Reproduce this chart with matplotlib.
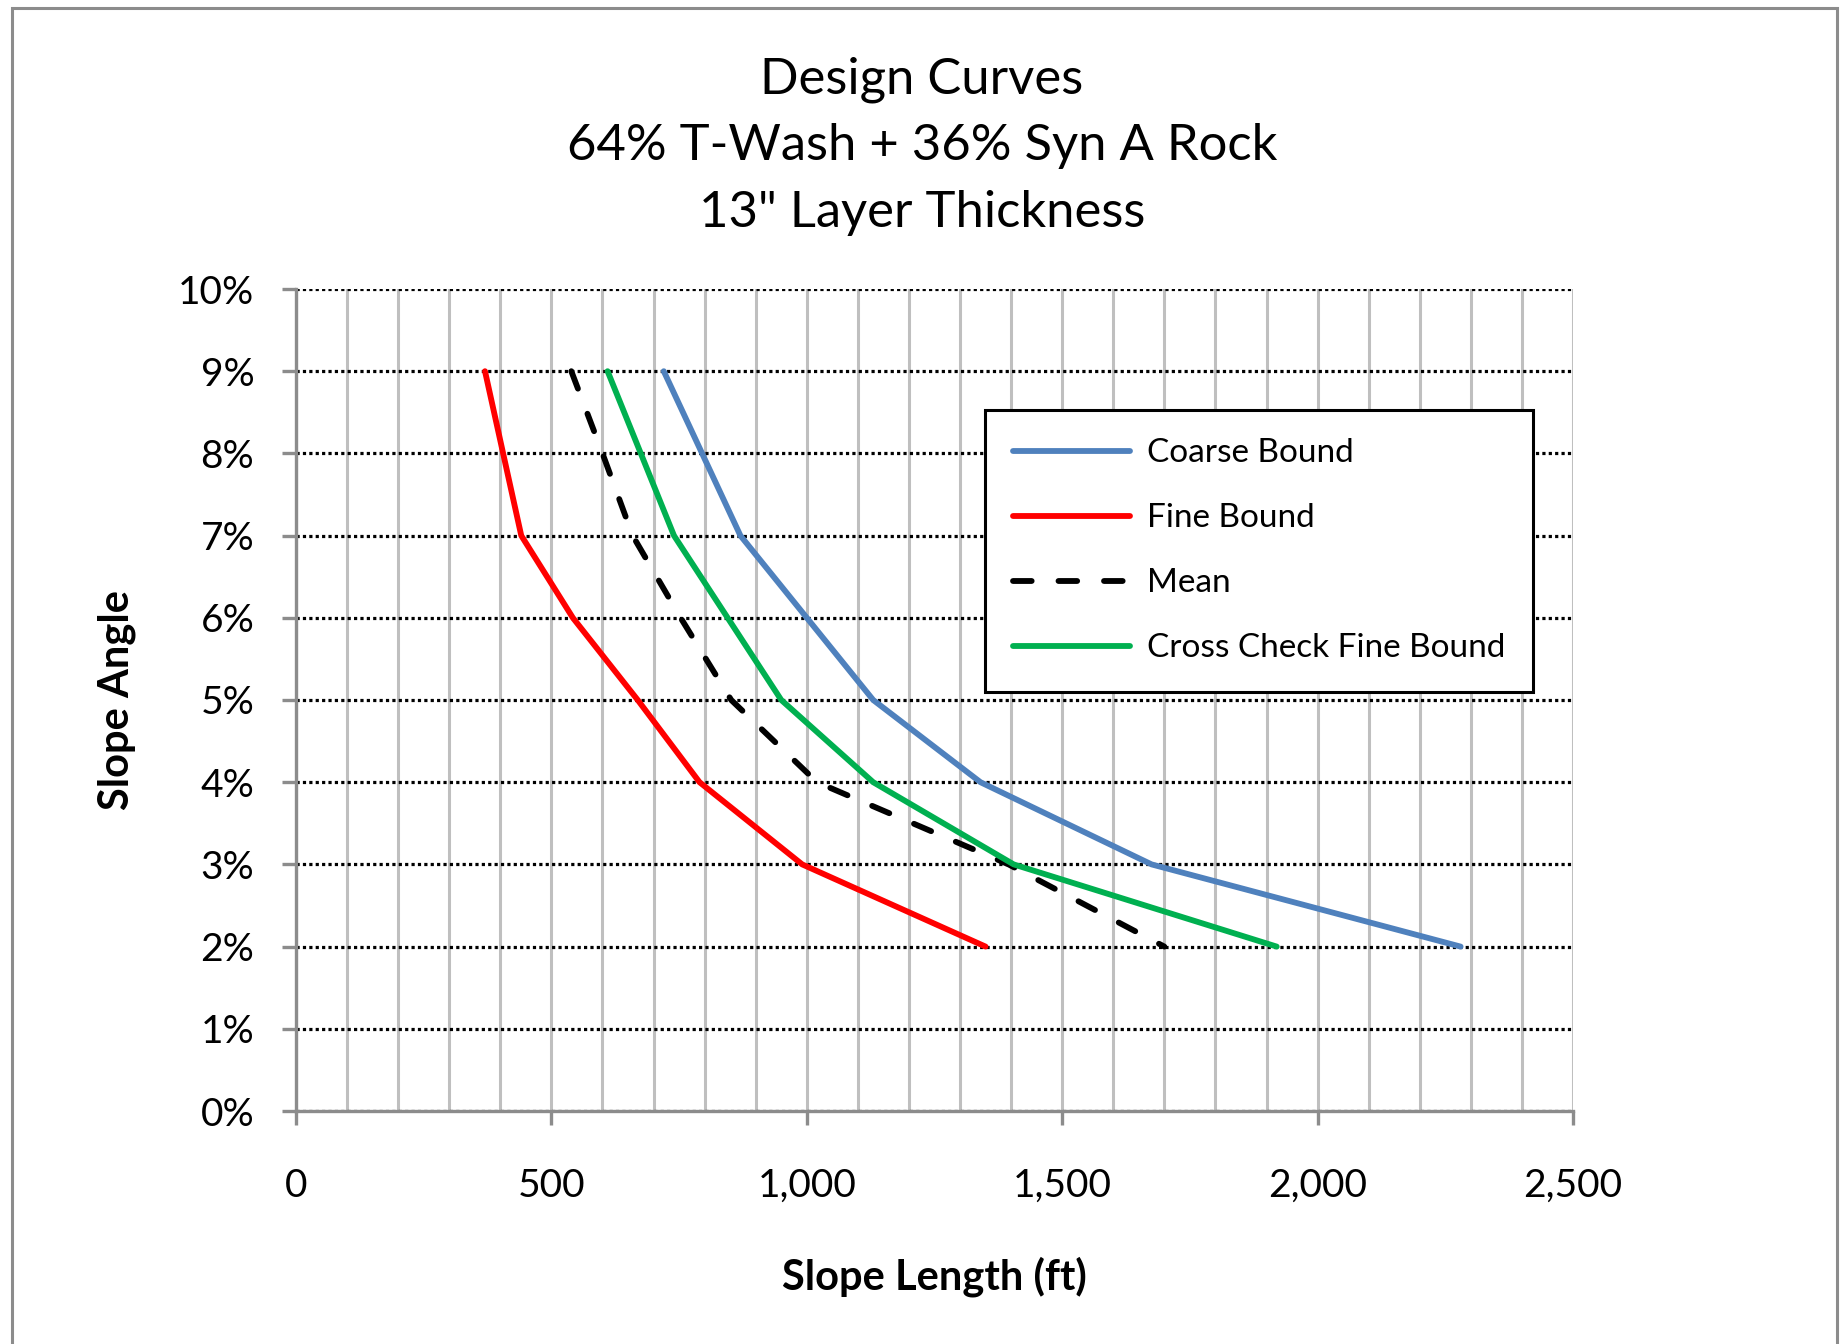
import matplotlib
matplotlib.use('Agg')
import matplotlib.pyplot as plt
from matplotlib.patches import Rectangle
from matplotlib.ticker import FuncFormatter, MultipleLocator

plt.rcParams['font.family'] = ['Lato', 'DejaVu Sans']

# slope angle (%) vs slope length (ft)
coarse_angle = [9, 7, 5, 4, 3, 2]
coarse_length = [720, 870, 1130, 1340, 1675, 2280]

fine_angle = [9, 7, 6, 5, 4, 3, 2]
fine_length = [370, 441, 542, 669, 790, 991, 1350]

mean_angle = [9, 8, 7, 6, 5, 4, 3, 2]
mean_length = [539, 600, 659, 753, 852, 1020, 1395, 1700]

cross_angle = [9, 7, 5, 4, 3, 2]
cross_length = [610, 740, 950, 1130, 1405, 1920]

W, H = 1841, 1344
fig = plt.figure(figsize=(W / 100, H / 100), dpi=100, facecolor='white')

# outer chart border
fig.patches.append(Rectangle((12 / W, -0.01), (1837 - 12) / W, 1.01 - 8 / H,
                             transform=fig.transFigure, fill=False,
                             edgecolor='#8c8c8c', linewidth=2.2))

ax = fig.add_axes([296 / W, 1 - 1111 / H, (1573 - 296) / W, (1111 - 289) / H])

lw = 4.2
ax.plot(coarse_length, coarse_angle, color='#4F81BD', linewidth=lw,
        solid_capstyle='round', solid_joinstyle='round', label='Coarse Bound', zorder=5)
ax.plot(fine_length, fine_angle, color='#FF0000', linewidth=lw,
        solid_capstyle='round', solid_joinstyle='round', label='Fine Bound', zorder=5)
ax.plot(mean_length, mean_angle, color='black', linewidth=lw, dashes=(3.2, 4.6),
        dash_capstyle='round', dash_joinstyle='round', label='Mean', zorder=5)
ax.plot(cross_length, cross_angle, color='#00B050', linewidth=lw,
        solid_capstyle='round', solid_joinstyle='round', label='Cross Check Fine Bound', zorder=5)

ax.set_xlim(0, 2500)
ax.set_ylim(0, 10)

ax.xaxis.set_major_locator(MultipleLocator(500))
ax.xaxis.set_minor_locator(MultipleLocator(100))
ax.yaxis.set_major_locator(MultipleLocator(1))
ax.xaxis.set_major_formatter(FuncFormatter(lambda v, p: f'{v:,.0f}'))
ax.yaxis.set_major_formatter(FuncFormatter(lambda v, p: f'{v:.0f}%'))

ax.grid(True, which='both', axis='x', color='#bfbfbf', linewidth=2.2, linestyle='-')
ax.grid(True, which='major', axis='y', color='black', linewidth=2.3, linestyle=(0, (1, 1)))
ax.set_axisbelow(True)

for side in ['top', 'right']:
    ax.spines[side].set_visible(False)
for side in ['left', 'bottom']:
    ax.spines[side].set_color('#8c8c8c')
    ax.spines[side].set_linewidth(2.4)

ax.tick_params(axis='both', which='major', length=10, width=2.4, color='#8c8c8c',
               labelsize=28, pad=20)
ax.tick_params(axis='x', which='major', pad=31)
ax.tick_params(axis='x', which='minor', length=0)

ax.set_xlabel('Slope Length (ft)', fontsize=30, fontweight='bold', labelpad=38)
ax.set_ylabel('Slope Angle', fontsize=30, fontweight='bold', labelpad=30)

fig.text(922 / W, 1 - 146 / H, 'Design Curves\n64% T-Wash + 36% Syn A Rock\n13" Layer Thickness',
         ha='center', va='center', fontsize=36.5, linespacing=1.56)

leg = ax.legend(loc='upper left', bbox_to_anchor=(985 / W, 1 - 410 / H),
                bbox_transform=fig.transFigure, fontsize=24, frameon=True,
                fancybox=False, framealpha=1, edgecolor='black',
                handlelength=3.5, handletextpad=0.5, labelspacing=1.05,
                borderpad=0.85, borderaxespad=0)
leg.get_frame().set_linewidth(2.2)

fig.savefig('out.png', dpi=100)
